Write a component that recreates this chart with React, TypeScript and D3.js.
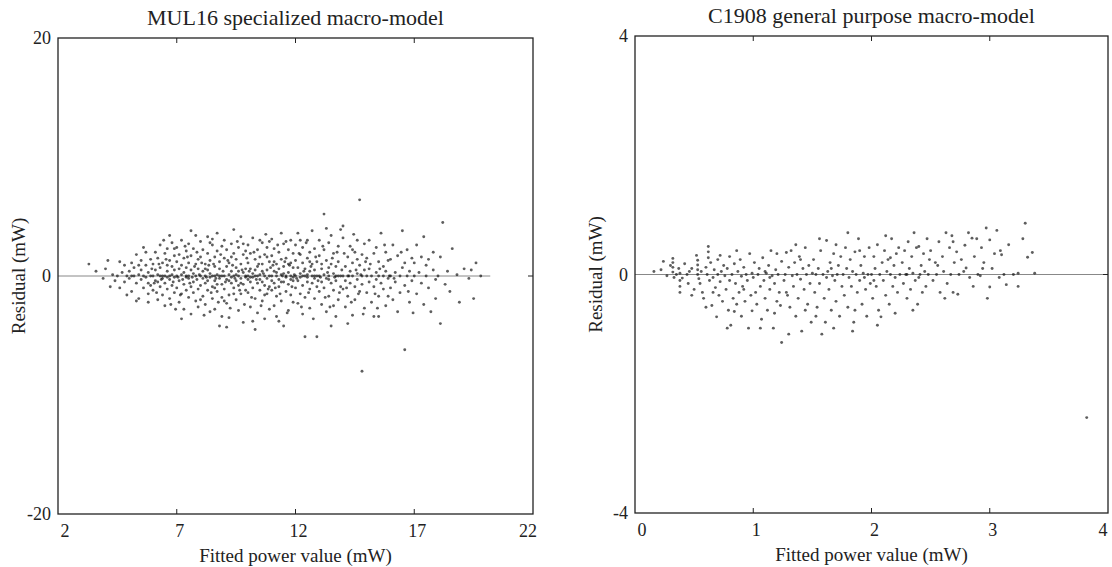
import React from "react";
import * as d3 from "d3";

// MUL16 panel: fitted power value (mW) vs residual (mW)
const mulXTicks = [2, 7, 12, 17, 22];
const mulYTicks = [-20, 0, 20];

const mulPoints: [number, number][] = [
  [3.3,1.0],[3.6,0.4],[3.9,-0.2],[4.0,0.6],[4.1,1.3],[4.2,-0.9],[4.3,0.1],[4.4,-0.4],[4.5,0.0],[4.6,-1.0],[4.6,1.2],[4.7,0.3],[4.8,0.9],[4.8,-0.5],[4.9,0.0],[4.9,-1.6],
  [5.0,0.4],[5.0,-0.2],[5.1,1.1],[5.1,-1.3],[5.2,0.0],[5.2,0.7],[5.3,-0.6],[5.3,1.8],[5.4,0.1],[5.4,-1.9],[5.5,0.5],[5.5,-0.3],[5.5,1.3],[5.6,0.0],[5.6,-1.0],[5.7,0.9],[5.7,-0.1],[5.7,2.0],[5.8,-0.6],[5.8,0.3],[5.8,-1.5],[5.9,1.4],[5.9,0.0],[5.9,-0.8],[5.95,0.6],[5.6,2.4],[5.3,-2.1],[5.1,0.0],[5.4,0.9],[5.8,-2.2],
  [6.0,0.0],[6.0,1.0],[6.0,-1.2],[6.1,2.0],[6.1,-0.4],[6.1,0.5],[6.2,-2.0],[6.2,0.1],[6.2,1.5],[6.3,-0.9],[6.3,0.7],[6.3,2.6],[6.4,-0.2],[6.4,-1.6],[6.4,1.1],[6.5,0.0],[6.5,-0.6],[6.5,1.9],[6.5,-2.5],[6.6,0.4],[6.6,-1.1],[6.6,2.3],[6.7,0.0],[6.7,-0.3],[6.7,1.3],[6.7,-1.9],[6.8,0.8],[6.8,-0.8],[6.8,2.8],[6.8,0.1],[6.9,-1.4],[6.9,0.5],[6.9,1.7],[6.9,-0.1],[6.95,-2.8],[6.3,0.0],[6.6,-0.1],[6.15,-1.4],[6.45,3.0],[6.75,-2.4],[6.05,-0.6],[6.55,1.4],[6.85,-0.5],[6.25,1.0],[6.35,-0.3],[6.9,2.3],[6.4,0.0],[6.7,3.4],[6.2,-0.5],[6.6,0.9],
  [7.0,0.0],[7.0,1.2],[7.0,-1.0],[7.0,2.4],[7.1,-0.4],[7.1,0.6],[7.1,-2.2],[7.1,1.8],[7.2,0.1],[7.2,-1.5],[7.2,3.0],[7.2,0.9],[7.3,-0.7],[7.3,0.3],[7.3,1.5],[7.3,-2.8],[7.4,0.0],[7.4,2.1],[7.4,-1.2],[7.4,0.7],[7.5,-0.2],[7.5,1.1],[7.5,-1.8],[7.5,2.7],[7.5,0.0],[7.6,0.5],[7.6,-0.9],[7.6,1.7],[7.6,-3.2],[7.7,0.2],[7.7,-0.5],[7.7,2.3],[7.7,-1.4],[7.8,1.0],[7.8,0.0],[7.8,-2.1],[7.8,3.4],[7.85,-0.3],[7.9,0.6],[7.9,-1.1],[7.9,1.4],[7.9,-2.6],[7.95,0.1],[7.05,-0.1],[7.25,-0.3],[7.45,1.6],[7.65,-0.1],[7.35,2.5],[7.15,-1.6],[7.55,-0.6],[7.75,0.8],[7.85,2.0],[7.2,-3.6],[7.6,3.8],[7.4,-0.1],
  [8.0,0.0],[8.0,-0.8],[8.0,1.6],[8.0,2.9],[8.1,-1.7],[8.1,0.4],[8.1,-0.2],[8.1,2.2],[8.2,1.0],[8.2,-2.4],[8.2,0.0],[8.2,-0.6],[8.3,1.9],[8.3,-1.2],[8.3,0.5],[8.3,3.3],[8.4,-0.1],[8.4,-3.0],[8.4,1.3],[8.4,0.2],[8.5,-0.9],[8.5,2.6],[8.5,0.0],[8.5,-1.9],[8.6,0.8],[8.6,-0.4],[8.6,1.6],[8.6,-2.8],[8.7,0.1],[8.7,-1.3],[8.7,2.1],[8.7,3.6],[8.8,-0.2],[8.8,0.6],[8.8,-4.2],[8.8,1.2],[8.9,-0.7],[8.9,0.0],[8.9,2.5],[8.9,-1.8],[8.05,1.1],[8.15,-3.3],[8.25,-0.1],[8.35,0.9],[8.45,-1.4],[8.55,1.0],[8.65,-0.2],[8.75,-2.2],[8.85,1.8],[8.95,0.4],[8.3,-0.4],[8.6,0.0],[8.9,-3.4],[8.4,2.8],[8.2,0.6],[8.7,-0.7],[8.5,3.1],[8.0,-2.0],[8.8,0.0],[8.6,-1.0],
  [9.0,0.0],[9.0,1.5],[9.0,-1.1],[9.0,3.0],[9.1,-0.3],[9.1,0.8],[9.1,-2.3],[9.1,2.2],[9.2,0.1],[9.2,-1.6],[9.2,1.1],[9.2,-3.5],[9.3,-0.6],[9.3,0.4],[9.3,2.7],[9.3,-0.1],[9.4,1.9],[9.4,-1.0],[9.4,3.9],[9.4,0.0],[9.5,-2.0],[9.5,0.7],[9.5,-0.4],[9.5,1.4],[9.6,0.0],[9.6,-2.9],[9.6,2.4],[9.6,-0.8],[9.7,1.0],[9.7,-0.2],[9.7,-1.5],[9.7,3.3],[9.8,0.3],[9.8,-0.7],[9.8,1.8],[9.8,-3.9],[9.9,0.0],[9.9,2.1],[9.9,-1.2],[9.9,0.6],[9.05,-0.5],[9.15,1.3],[9.25,-2.7],[9.35,0.9],[9.45,-0.2],[9.55,2.9],[9.65,-1.2],[9.75,0.5],[9.85,-2.4],[9.95,1.5],[9.1,-4.3],[9.3,1.6],[9.5,0.1],[9.7,-0.6],[9.9,-0.1],[9.2,-0.4],[9.4,-1.5],[9.6,0.4],[9.8,2.7],[9.0,-2.1],
  [10.0,0.0],[10.0,1.1],[10.0,-1.4],[10.0,2.6],[10.1,-0.5],[10.1,0.6],[10.1,-2.6],[10.1,1.9],[10.2,0.2],[10.2,-1.0],[10.2,3.2],[10.2,-0.1],[10.3,1.4],[10.3,-1.9],[10.3,0.0],[10.3,-4.5],[10.4,0.8],[10.4,-0.6],[10.4,2.2],[10.4,-3.1],[10.5,0.1],[10.5,1.6],[10.5,-1.2],[10.5,-0.3],[10.6,2.8],[10.6,0.4],[10.6,-2.1],[10.6,1.0],[10.7,-0.8],[10.7,0.0],[10.7,1.8],[10.7,-3.6],[10.8,0.5],[10.8,-1.5],[10.8,2.4],[10.8,-0.2],[10.9,1.2],[10.9,-0.9],[10.9,0.0],[10.9,-2.8],[10.05,0.4],[10.15,-1.8],[10.25,2.0],[10.35,-0.3],[10.45,1.0],[10.55,-2.5],[10.65,0.2],[10.75,3.5],[10.85,-1.1],[10.95,0.7],[10.2,-3.8],[10.4,0.0],[10.6,-0.5],[10.8,1.6],[10.0,-0.3],[10.3,0.5],[10.5,3.0],[10.7,-1.6],[10.9,2.9],[10.1,-0.1],
  [11.0,0.0],[11.0,-1.2],[11.0,1.7],[11.0,3.1],[11.1,0.4],[11.1,-0.6],[11.1,-2.5],[11.1,2.3],[11.2,0.0],[11.2,1.0],[11.2,-1.7],[11.2,-3.4],[11.3,0.6],[11.3,-0.3],[11.3,2.0],[11.3,-0.9],[11.4,1.4],[11.4,0.1],[11.4,-2.1],[11.4,3.6],[11.5,-0.5],[11.5,0.8],[11.5,-4.2],[11.5,2.7],[11.6,0.0],[11.6,-1.3],[11.6,1.5],[11.6,-0.1],[11.7,2.2],[11.7,-0.7],[11.7,0.3],[11.7,-2.9],[11.8,1.1],[11.8,0.0],[11.8,-1.6],[11.8,3.0],[11.9,-0.4],[11.9,0.7],[11.9,-2.2],[11.9,1.9],[11.05,0.9],[11.15,-1.0],[11.25,2.6],[11.35,-1.5],[11.45,0.0],[11.55,1.2],[11.65,-3.1],[11.75,0.9],[11.85,-0.9],[11.95,0.1],[11.3,-3.8],[11.5,0.2],[11.7,1.0],[11.9,-0.1],[11.1,1.2],[11.4,-0.5],[11.6,2.9],[11.8,-0.3],[11.2,0.3],[11.0,-0.4],
  [12.0,0.0],[12.0,1.3],[12.0,-1.0],[12.0,2.6],[12.1,-0.4],[12.1,0.7],[12.1,-2.3],[12.1,3.6],[12.2,0.2],[12.2,-1.5],[12.2,1.8],[12.2,-0.1],[12.3,-0.8],[12.3,1.1],[12.3,-3.2],[12.3,2.4],[12.4,0.0],[12.4,-5.1],[12.4,0.6],[12.4,-1.8],[12.5,1.5],[12.5,-0.5],[12.5,3.0],[12.5,0.1],[12.6,-1.1],[12.6,2.0],[12.6,0.4],[12.6,-2.7],[12.7,0.0],[12.7,1.0],[12.7,-0.6],[12.7,3.8],[12.8,-1.9],[12.8,0.5],[12.8,2.3],[12.8,-0.2],[12.9,-5.1],[12.9,1.2],[12.9,-0.9],[12.9,0.0],[12.05,-0.2],[12.15,1.9],[12.25,-2.6],[12.35,0.4],[12.45,2.8],[12.55,-1.4],[12.65,0.8],[12.75,-3.6],[12.85,1.6],[12.95,-0.4],[12.2,3.0],[12.5,-0.1],[12.8,0.0],[12.3,0.0],[12.6,1.2],
  [13.0,0.0],[13.0,1.7],[13.0,-1.3],[13.0,3.0],[13.1,-0.5],[13.1,0.6],[13.1,-2.4],[13.2,5.2],[13.2,0.1],[13.2,-1.0],[13.2,2.2],[13.3,-0.2],[13.3,1.3],[13.3,-3.0],[13.4,0.7],[13.4,-1.7],[13.4,2.8],[13.4,0.0],[13.5,-0.6],[13.5,1.0],[13.5,-4.2],[13.5,3.4],[13.6,0.2],[13.6,-1.2],[13.6,1.9],[13.7,-3.4],[13.7,0.0],[13.7,0.8],[13.7,-0.4],[13.8,2.5],[13.8,-2.0],[13.8,1.2],[13.9,0.0],[13.9,-0.9],[13.9,3.9],[13.05,-0.1],[13.15,2.5],[13.25,-1.8],[13.35,0.3],[13.45,-2.6],[13.55,1.5],[13.65,-0.1],[13.75,2.0],[13.85,-1.4],[13.95,0.5],[13.3,4.0],[13.6,-2.5],[13.1,1.0],[13.8,0.0],[13.4,-0.3],
  [14.0,0.0],[14.0,4.2],[14.0,3.2],[14.0,-1.1],[14.1,0.8],[14.1,-0.4],[14.1,-2.6],[14.2,1.6],[14.2,0.0],[14.2,-1.7],[14.3,2.5],[14.3,-0.6],[14.3,0.4],[14.4,-3.3],[14.4,1.1],[14.4,0.0],[14.5,-0.9],[14.5,2.0],[14.5,-2.0],[14.6,0.2],[14.6,3.0],[14.6,-0.3],[14.7,6.4],[14.7,-1.3],[14.7,0.9],[14.8,-8.0],[14.8,0.0],[14.8,1.8],[14.8,-0.7],[14.9,-2.7],[14.9,0.5],[14.9,2.7],[14.05,1.9],[14.15,-1.0],[14.25,0.0],[14.35,-2.2],[14.45,3.5],[14.55,0.5],[14.65,-1.5],[14.75,0.1],[14.85,-3.2],[14.95,1.2],[14.2,-4.0],[14.6,1.4],[14.4,2.2],
  [15.0,0.0],[15.0,-1.4],[15.0,1.5],[15.1,3.0],[15.1,-0.5],[15.1,0.6],[15.2,-2.2],[15.2,0.0],[15.3,1.9],[15.3,-0.9],[15.3,-3.4],[15.4,0.3],[15.4,2.4],[15.4,-0.3],[15.5,-1.7],[15.5,0.0],[15.5,1.2],[15.5,-3.4],[15.6,3.6],[15.6,-0.6],[15.7,0.8],[15.7,-1.1],[15.7,0.0],[15.8,2.0],[15.8,-2.5],[15.8,0.4],[15.9,-0.2],[15.9,1.3],[15.9,-1.7],[15.15,1.0],[15.35,-1.5],[15.55,0.6],[15.75,2.6],[15.95,0.0],[15.45,-2.7],
  [16.0,0.0],[16.0,1.4],[16.0,-1.0],[16.1,2.6],[16.1,-2.0],[16.2,0.3],[16.2,-0.5],[16.3,1.7],[16.3,-3.0],[16.4,0.0],[16.4,-1.4],[16.5,3.8],[16.5,0.7],[16.6,-6.2],[16.6,-0.8],[16.6,1.1],[16.7,0.0],[16.7,2.2],[16.8,-2.2],[16.8,0.4],[16.9,-0.4],[16.9,1.5],[16.15,-0.2],[16.45,2.0],[16.75,-1.3],[16.95,-3.1],
  [17.0,0.0],[17.0,1.1],[17.1,-1.5],[17.1,2.6],[17.2,0.3],[17.3,-0.6],[17.3,1.6],[17.4,-2.4],[17.5,0.0],[17.5,0.9],[17.6,1.4],[17.6,-1.0],[17.7,-3.0],[17.8,0.5],[17.8,2.0],[17.9,-0.3],[17.9,-1.9],[17.4,3.3],
  [18.0,0.0],[18.1,-4.0],[18.1,1.6],[18.2,4.5],[18.3,-0.7],[18.4,0.4],[18.5,-1.3],[18.6,2.3],[18.8,0.1],[18.9,-2.2],[19.1,0.6],[19.3,-0.2],[19.4,0.5],[19.5,-1.9],[19.6,1.1],[19.8,0.0],
];

// C1908 panel
const c1908XTicks = [0, 1, 2, 3, 4];
const c1908YTicks = [-4, 0, 4];

const c1908Points: [number, number][] = [
  [0.16,0.05],[0.22,0.08],[0.24,0.22],[0.27,-0.02],[0.30,0.15],[0.32,0.27],[0.32,0.2],[0.32,0.12],[0.32,0.04],[0.33,-0.05],[0.35,0.0],[0.37,0.1],[0.38,0.02],[0.38,-0.1],[0.38,-0.2],[0.38,-0.3],[0.40,-0.06],[0.42,0.18],[0.44,0.0],[0.45,-0.15],[0.46,0.05],[0.48,-0.35],[0.48,0.1],[0.5,-0.25],
  [0.52,0.32],[0.53,0.24],[0.53,0.16],[0.53,0.08],[0.53,0.0],[0.54,-0.07],[0.55,-0.15],[0.56,0.05],[0.57,-0.3],[0.58,-0.4],[0.6,0.12],[0.61,0.0],[0.62,0.47],[0.62,0.38],[0.62,0.28],[0.63,-0.1],[0.64,0.2],[0.65,-0.52],[0.66,-0.05],[0.67,0.08],[0.68,-0.22],[0.69,-0.71],[0.7,0.0],[0.7,0.25],[0.71,-0.35],[0.72,-0.12],[0.73,0.05],[0.74,-0.45],[0.75,0.15],[0.6,-0.55],[0.66,-0.3],[0.72,0.32],
  [0.76,-0.02],[0.77,-0.25],[0.78,0.1],[0.79,-0.6],[0.8,0.3],[0.8,-0.1],[0.81,-0.85],[0.82,0.0],[0.83,-0.4],[0.84,0.18],[0.85,-0.15],[0.86,-0.5],[0.87,0.05],[0.88,-0.3],[0.89,0.25],[0.9,-0.03],[0.9,-0.7],[0.91,-0.2],[0.92,0.12],[0.93,-0.45],[0.94,0.0],[0.95,-0.1],[0.96,-0.9],[0.97,0.35],[0.98,-0.35],[0.99,-0.61],[0.99,0.02],[0.78,-0.9],[0.84,-0.62],[0.92,-0.25],[0.86,0.4],
  [1.0,-0.05],[1.01,0.2],[1.02,-0.3],[1.03,-0.5],[1.04,0.0],[1.05,0.1],[1.06,-0.2],[1.07,-0.75],[1.08,0.28],[1.09,-0.1],[1.1,-0.4],[1.11,0.02],[1.12,-0.6],[1.13,0.15],[1.14,-0.25],[1.15,0.4],[1.16,-0.02],[1.17,-0.9],[1.18,-0.15],[1.19,0.08],[1.2,-0.45],[1.21,0.0],[1.22,-0.3],[1.23,-0.52],[1.24,-1.14],[1.24,0.22],[1.06,-0.9],[1.14,-0.05],[1.2,0.35],[1.1,0.05],[1.18,-0.65],
  [1.26,-0.1],[1.27,0.0],[1.28,0.37],[1.29,-0.35],[1.3,0.12],[1.31,-0.55],[1.32,0.4],[1.33,-0.02],[1.34,-0.2],[1.35,0.2],[1.36,-0.7],[1.37,0.0],[1.38,-0.4],[1.39,0.3],[1.4,-0.08],[1.41,-0.95],[1.42,0.1],[1.43,-0.25],[1.44,0.45],[1.45,0.0],[1.46,-0.5],[1.47,0.15],[1.48,-0.15],[1.49,-0.8],[1.5,0.02],[1.3,-1.0],[1.36,0.5],[1.44,-0.6],[1.28,-0.3],[1.4,0.25],
  [1.51,0.25],[1.52,-0.3],[1.53,0.0],[1.54,-0.55],[1.55,0.1],[1.56,-0.15],[1.57,0.4],[1.58,-1.0],[1.59,0.0],[1.6,-0.4],[1.61,-0.8],[1.62,0.57],[1.63,0.05],[1.64,-0.25],[1.65,0.2],[1.66,-0.6],[1.67,-0.02],[1.68,0.35],[1.69,-0.1],[1.7,-0.45],[1.71,0.0],[1.72,0.15],[1.73,-0.7],[1.74,0.3],[1.75,-0.2],[1.56,0.6],[1.62,-0.05],[1.68,-0.9],[1.7,0.5],[1.53,-0.7],[1.66,0.1],
  [1.76,0.0],[1.77,-0.35],[1.78,0.45],[1.79,0.1],[1.8,-0.55],[1.81,-0.05],[1.82,0.25],[1.83,-0.2],[1.84,0.05],[1.85,-0.8],[1.86,0.38],[1.87,0.0],[1.88,-0.3],[1.89,0.6],[1.9,-0.1],[1.91,0.15],[1.92,-0.5],[1.93,0.02],[1.94,0.3],[1.95,-0.25],[1.96,-0.7],[1.97,0.0],[1.98,0.45],[1.99,-0.15],[1.8,0.7],[1.86,-0.6],[1.94,-0.05],[1.84,-0.95],[1.9,0.4],
  [2.0,0.0],[2.01,-0.4],[2.02,0.3],[2.03,0.1],[2.04,-0.2],[2.05,0.5],[2.06,-0.6],[2.07,0.0],[2.08,-0.71],[2.09,0.2],[2.1,-0.1],[2.11,0.4],[2.12,-0.35],[2.13,0.05],[2.14,0.25],[2.15,-0.5],[2.16,0.0],[2.17,0.6],[2.18,-0.2],[2.19,0.15],[2.2,-0.05],[2.21,0.35],[2.22,-0.3],[2.23,0.45],[2.24,0.0],[2.05,-0.85],[2.12,0.65],[2.2,-0.65],[2.02,-0.1],[2.16,0.28],
  [2.26,0.2],[2.27,-0.15],[2.28,0.4],[2.29,0.0],[2.3,-0.4],[2.31,0.55],[2.32,0.1],[2.33,-0.25],[2.34,0.3],[2.35,0.02],[2.36,0.7],[2.37,-0.1],[2.38,0.45],[2.39,-0.5],[2.4,0.47],[2.41,0.0],[2.42,0.15],[2.43,-0.3],[2.44,0.35],[2.45,0.05],[2.46,-0.2],[2.47,0.6],[2.48,0.0],[2.49,0.25],[2.3,0.0],[2.4,-0.05],[2.35,-0.6],
  [2.5,0.4],[2.52,-0.1],[2.54,0.2],[2.55,0.0],[2.57,0.55],[2.58,-0.3],[2.6,0.3],[2.61,0.05],[2.63,0.7],[2.64,-0.15],[2.66,0.45],[2.67,0.0],[2.69,0.55],[2.69,-0.3],[2.7,0.2],[2.72,0.38],[2.73,-0.33],[2.74,0.0],[2.56,0.15],[2.62,-0.4],[2.68,0.65],
  [2.76,0.25],[2.78,0.05],[2.79,0.49],[2.8,0.11],[2.82,0.7],[2.83,-0.05],[2.85,0.61],[2.87,0.3],[2.89,0.6],[2.9,0.0],[2.92,-0.02],[2.93,0.45],[2.95,0.2],[2.97,0.78],[2.98,-0.4],[3.0,0.58],[3.0,-0.21],[2.86,-0.2],[2.94,0.1],
  [3.02,0.1],[3.04,0.35],[3.06,0.74],[3.08,-0.05],[3.09,0.4],[3.1,0.33],[3.12,0.0],[3.14,-0.17],[3.16,0.5],[3.2,0.0],[3.24,0.02],[3.24,-0.2],[3.28,0.6],[3.3,0.86],[3.32,0.29],[3.36,0.37],[3.38,0.02],[3.82,-2.4],
];

const FONT = "'Liberation Serif', 'Times New Roman', serif";

type PanelProps = {
  title: string;
  points: [number, number][];
  xTicks: number[];
  yTicks: number[];
  x0: number;
  x1: number;
  y0: number;
  y1: number;
  zeroEnd?: number;
};

const Panel = ({ title, points, xTicks, yTicks, x0, x1, y0, y1, zeroEnd }: PanelProps) => {
  const x = d3.scaleLinear().domain([xTicks[0], xTicks[xTicks.length - 1]]).range([x0, x1]);
  const y = d3.scaleLinear().domain([yTicks[0], yTicks[yTicks.length - 1]]).range([y1, y0]);
  const inner = xTicks.slice(1, -1);
  const cx = (x0 + x1) / 2;
  const tickLen = 5;
  const last = xTicks.length - 1;

  return (
    <g>
      <text x={cx} y={y0 - 13} textAnchor="middle" fontSize={22} fontFamily={FONT} fill="#222">
        {title}
      </text>
      {/* zero reference line */}
      <line
        x1={x0}
        x2={zeroEnd !== undefined ? x(zeroEnd) : x1}
        y1={y(0)}
        y2={y(0)}
        stroke="#888"
        strokeWidth={1}
      />
      {points.map((d, i) => (
        <circle key={i} cx={x(d[0])} cy={y(d[1])} r={1.45} fill="#111" fillOpacity={0.68} />
      ))}
      <rect x={x0} y={y0} width={x1 - x0} height={y1 - y0} fill="none" stroke="#222" strokeWidth={1.3} />
      {inner.map((t) => (
        <g key={t}>
          <line x1={x(t)} x2={x(t)} y1={y0} y2={y0 + tickLen} stroke="#222" strokeWidth={1} />
          <line x1={x(t)} x2={x(t)} y1={y1} y2={y1 - tickLen} stroke="#222" strokeWidth={1} />
        </g>
      ))}
      <line x1={x1} x2={x1 - tickLen} y1={y(0)} y2={y(0)} stroke="#222" strokeWidth={1} />
      {xTicks.map((t, i) => (
        <text
          key={t}
          x={x(t) + (i === 0 ? 7 : i === last ? -5 : 3)}
          y={y1 + 23}
          textAnchor="middle"
          fontSize={18}
          fontFamily={FONT}
          fill="#222"
        >
          {t}
        </text>
      ))}
      {yTicks.map((t) => (
        <text
          key={t}
          x={x0 - 7}
          y={y(t)}
          dy="0.35em"
          textAnchor="end"
          fontSize={18}
          fontFamily={FONT}
          fill="#222"
        >
          {t}
        </text>
      ))}
      <text x={cx} y={y1 + 48} textAnchor="middle" fontSize={19} fontFamily={FONT} fill="#222">
        Fitted power value (mW)
      </text>
      <text
        transform={`translate(${x0 - 33},${(y0 + y1) / 2}) rotate(-90)`}
        textAnchor="middle"
        fontSize={19}
        fontFamily={FONT}
        fill="#222"
      >
        Residual (mW)
      </text>
    </g>
  );
};

export default function App() {
  return (
    <svg width={1112} height={567} style={{ display: "block", position: "absolute", left: 0, top: 0, background: "#fff" }}>
      <Panel
        title="MUL16 specialized macro-model"
        points={mulPoints}
        xTicks={mulXTicks}
        yTicks={mulYTicks}
        x0={58}
        x1={533}
        y0={38}
        y1={514}
        zeroEnd={20.2}
      />
      <Panel
        title="C1908 general purpose macro-model"
        points={c1908Points}
        xTicks={c1908XTicks}
        yTicks={c1908YTicks}
        x0={635}
        x1={1108}
        y0={36}
        y1={513}
      />
    </svg>
  );
}
